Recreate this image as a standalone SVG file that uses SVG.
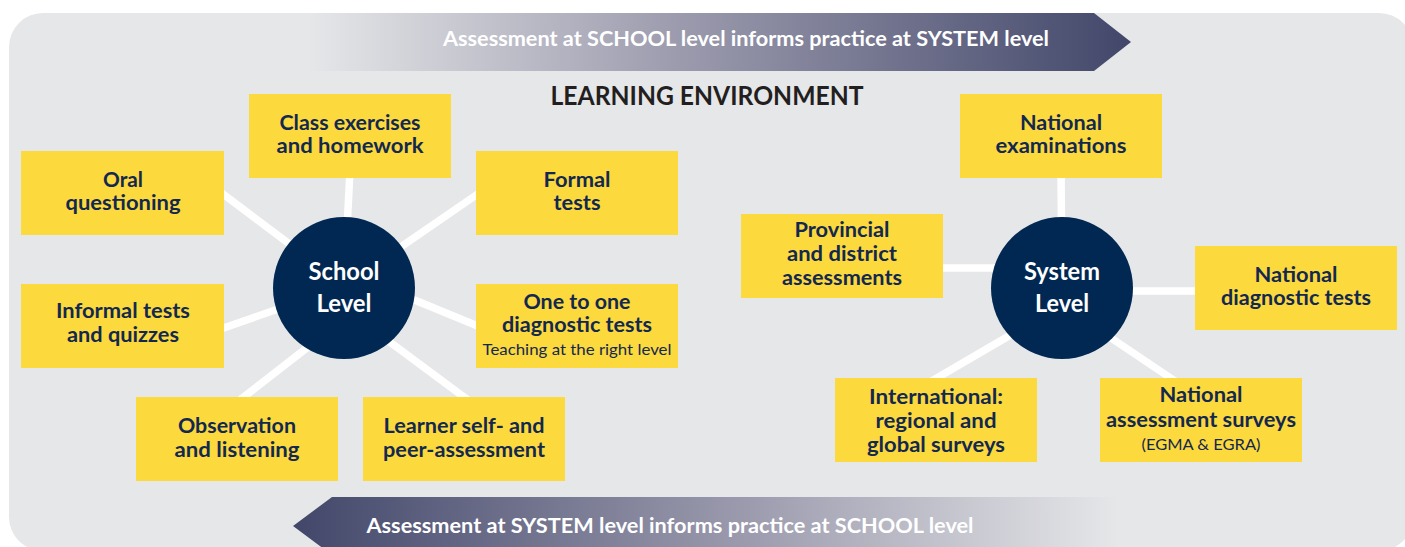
<svg xmlns="http://www.w3.org/2000/svg" width="1405" height="547" viewBox="0 0 1405 547">
  <defs>
    <linearGradient id="gradRight" gradientUnits="userSpaceOnUse" x1="308" y1="0" x2="1131" y2="0">
      <stop offset="0" stop-color="#e6e7e9"/>
      <stop offset="0.45" stop-color="#9c9bae"/>
      <stop offset="1" stop-color="#42476a"/>
    </linearGradient>
    <linearGradient id="gradLeft" gradientUnits="userSpaceOnUse" x1="1118" y1="0" x2="293" y2="0">
      <stop offset="0" stop-color="#e6e7e9"/>
      <stop offset="0.45" stop-color="#9c9bae"/>
      <stop offset="1" stop-color="#42476a"/>
    </linearGradient>
    <style>
      text { font-family: Lato, "Liberation Sans", sans-serif; text-anchor: middle; }
      .lbl { font-size: 20px; font-weight: 700; fill: #13284f; }
      .sub { font-size: 16px; font-weight: 400; fill: #13284f; }
      .hub { font-size: 24px; font-weight: 700; fill: #ffffff; }
      .band { font-size: 21px; font-weight: 700; fill: #ffffff; }
      .title { font-size: 26px; font-weight: 700; fill: #231f20; }
      .box { fill: #fcd93d; }
      .circle { fill: #012852; }
      .link { stroke: #ffffff; stroke-width: 7.5; fill: none; }
    </style>
  </defs>

  <!-- background panel -->
  <rect x="9" y="13" width="1404" height="538" rx="34" fill="#e6e7e9"/>

  <!-- top band: school informs system -->
  <g id="band-top">
    <polygon points="308,13 1094,13 1131,42 1094,71 308,71" fill="url(#gradRight)"/>
    <text class="band" x="746" y="46" textLength="606" lengthAdjust="spacingAndGlyphs">Assessment at SCHOOL level informs practice at SYSTEM level</text>
  </g>

  <!-- bottom band: system informs school -->
  <g id="band-bottom">
    <polygon points="1118,497 332,497 293,526 332,555 1118,555" fill="url(#gradLeft)"/>
    <text class="band" x="670" y="533" textLength="607" lengthAdjust="spacingAndGlyphs">Assessment at SYSTEM level informs practice at SCHOOL level</text>
  </g>

  <text id="title" class="title" x="707" y="105" textLength="313" lengthAdjust="spacingAndGlyphs">LEARNING ENVIRONMENT</text>

  <!-- connectors -->
  <g id="connectors">
    <line class="link" x1="350" y1="170" x2="344" y2="288"/>
    <line class="link" x1="215" y1="188" x2="344" y2="285"/>
    <line class="link" x1="485" y1="189" x2="344" y2="286"/>
    <line class="link" x1="215" y1="331" x2="344" y2="286"/>
    <line class="link" x1="485" y1="329" x2="344" y2="271"/>
    <line class="link" x1="236" y1="403" x2="344" y2="319"/>
    <line class="link" x1="472" y1="403" x2="344" y2="308"/>

    <line class="link" x1="1061" y1="170" x2="1062" y2="288"/>
    <line class="link" x1="935" y1="268" x2="1062" y2="268"/>
    <line class="link" x1="1062" y1="291" x2="1205" y2="291"/>
    <line class="link" x1="930" y1="382" x2="1062" y2="305"/>
    <line class="link" x1="1178" y1="383" x2="1062" y2="305"/>
  </g>

  <!-- school level cluster -->
  <g id="school-level">
    <circle class="circle" cx="344" cy="288" r="71"/>
    <text class="hub" x="344" y="280" textLength="71" lengthAdjust="spacingAndGlyphs">School</text>
    <text class="hub" x="344" y="312" textLength="55" lengthAdjust="spacingAndGlyphs">Level</text>
  </g>

  <g id="class-exercises">
    <rect class="box" x="249" y="94" width="202" height="84"/>
    <text class="lbl" x="350" y="130" textLength="141" lengthAdjust="spacingAndGlyphs">Class exercises</text>
    <text class="lbl" x="350" y="153" textLength="147" lengthAdjust="spacingAndGlyphs">and homework</text>
  </g>

  <g id="oral-questioning">
    <rect class="box" x="21" y="151" width="203" height="84"/>
    <text class="lbl" x="123" y="187" textLength="40" lengthAdjust="spacingAndGlyphs">Oral</text>
    <text class="lbl" x="123" y="210" textLength="115" lengthAdjust="spacingAndGlyphs">questioning</text>
  </g>

  <g id="formal-tests">
    <rect class="box" x="476" y="151" width="202" height="84"/>
    <text class="lbl" x="577" y="187" textLength="67" lengthAdjust="spacingAndGlyphs">Formal</text>
    <text class="lbl" x="577" y="210" textLength="47" lengthAdjust="spacingAndGlyphs">tests</text>
  </g>

  <g id="informal-tests">
    <rect class="box" x="21" y="284" width="203" height="84"/>
    <text class="lbl" x="123" y="318" textLength="134" lengthAdjust="spacingAndGlyphs">Informal tests</text>
    <text class="lbl" x="123" y="342" textLength="112" lengthAdjust="spacingAndGlyphs">and quizzes</text>
  </g>

  <g id="one-to-one">
    <rect class="box" x="476" y="284" width="202" height="84"/>
    <text class="lbl" x="577" y="309" textLength="107" lengthAdjust="spacingAndGlyphs">One to one</text>
    <text class="lbl" x="577" y="332" textLength="150" lengthAdjust="spacingAndGlyphs">diagnostic tests</text>
    <text class="sub" x="577" y="355" textLength="189" lengthAdjust="spacingAndGlyphs">Teaching at the right level</text>
  </g>

  <g id="observation">
    <rect class="box" x="136" y="397" width="202" height="84"/>
    <text class="lbl" x="237" y="433" textLength="118" lengthAdjust="spacingAndGlyphs">Observation</text>
    <text class="lbl" x="237" y="457" textLength="125" lengthAdjust="spacingAndGlyphs">and listening</text>
  </g>

  <g id="learner-self">
    <rect class="box" x="363" y="397" width="202" height="84"/>
    <text class="lbl" x="464" y="433" textLength="161" lengthAdjust="spacingAndGlyphs">Learner self- and</text>
    <text class="lbl" x="464" y="457" textLength="162" lengthAdjust="spacingAndGlyphs">peer-assessment</text>
  </g>

  <!-- system level cluster -->
  <g id="system-level">
    <circle class="circle" cx="1062" cy="288" r="71"/>
    <text class="hub" x="1062" y="280" textLength="76" lengthAdjust="spacingAndGlyphs">System</text>
    <text class="hub" x="1062" y="312" textLength="54" lengthAdjust="spacingAndGlyphs">Level</text>
  </g>

  <g id="national-examinations">
    <rect class="box" x="960" y="94" width="202" height="84"/>
    <text class="lbl" x="1061" y="130" textLength="82" lengthAdjust="spacingAndGlyphs">National</text>
    <text class="lbl" x="1061" y="153" textLength="131" lengthAdjust="spacingAndGlyphs">examinations</text>
  </g>

  <g id="provincial">
    <rect class="box" x="741" y="214" width="202" height="84"/>
    <text class="lbl" x="842" y="237" textLength="95" lengthAdjust="spacingAndGlyphs">Provincial</text>
    <text class="lbl" x="842" y="261" textLength="110" lengthAdjust="spacingAndGlyphs">and district</text>
    <text class="lbl" x="842" y="285" textLength="120" lengthAdjust="spacingAndGlyphs">assessments</text>
  </g>

  <g id="national-diagnostic">
    <rect class="box" x="1195" y="246" width="202" height="84"/>
    <text class="lbl" x="1296" y="282" textLength="83" lengthAdjust="spacingAndGlyphs">National</text>
    <text class="lbl" x="1296" y="305" textLength="150" lengthAdjust="spacingAndGlyphs">diagnostic tests</text>
  </g>

  <g id="international">
    <rect class="box" x="835" y="378" width="202" height="84"/>
    <text class="lbl" x="936" y="404" textLength="134" lengthAdjust="spacingAndGlyphs">International:</text>
    <text class="lbl" x="936" y="428" textLength="121" lengthAdjust="spacingAndGlyphs">regional and</text>
    <text class="lbl" x="936" y="452" textLength="138" lengthAdjust="spacingAndGlyphs">global surveys</text>
  </g>

  <g id="national-assessment">
    <rect class="box" x="1100" y="378" width="202" height="84"/>
    <text class="lbl" x="1201" y="402" textLength="83" lengthAdjust="spacingAndGlyphs">National</text>
    <text class="lbl" x="1201" y="427" textLength="190" lengthAdjust="spacingAndGlyphs">assessment surveys</text>
    <text class="sub" x="1201" y="450" textLength="119" lengthAdjust="spacingAndGlyphs">(EGMA &amp; EGRA)</text>
  </g>
</svg>
